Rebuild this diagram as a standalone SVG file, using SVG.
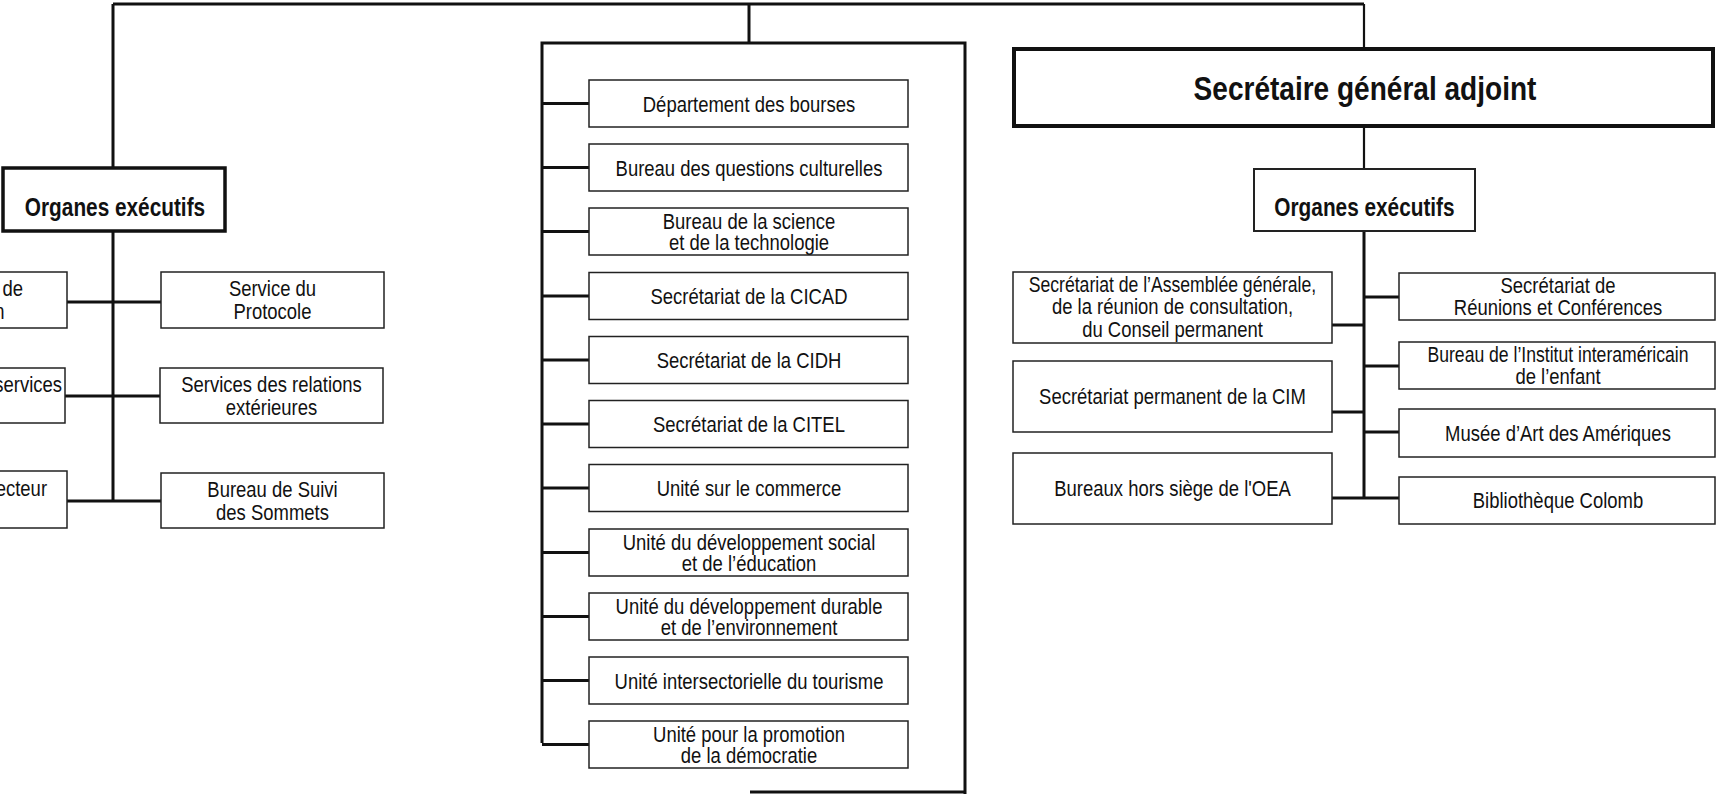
<svg xmlns="http://www.w3.org/2000/svg" width="1716" height="794" viewBox="0 0 1716 794">
<style>
.box{fill:#fff;stroke:#222;stroke-width:1.5}
.thick{fill:#fff;stroke:#111;stroke-width:3.5}
.t{font-family:"Liberation Sans",Arial,sans-serif;font-size:22px;fill:#111;text-anchor:middle;transform-box:fill-box;transform-origin:50% 50%;transform:scaleX(0.84)}
.e{text-anchor:end;transform-origin:100% 50%}
.n{transform:scaleX(0.8)}
.b{font-weight:bold;font-size:26px;transform:scaleX(0.8)}
.h{font-weight:bold;font-size:33px;transform:scaleX(0.85)}
.c{stroke:#111;stroke-width:3;fill:none}
.c2{stroke:#111;stroke-width:2.2;fill:none}
</style>
<rect width="1716" height="794" fill="#fff"/>
<g id="connectors">
<path class="c" d="M113,4 H1364"/>
<path class="c" d="M113,4 V168 M113,231 V501"/>
<path class="c" d="M67,302 H161 M65,396 H160 M67,501 H161"/>
<path class="c" d="M749,4 V43"/>
<path class="c" d="M542,743 V43 H965 V794 M750,792 H965"/>
<path class="c" d="M542,103.5 H589 M542,167.5 H589 M542,231.5 H589 M542,296 H589 M542,360 H589 M542,424 H589 M542,488 H589 M542,552.5 H589 M542,616.5 H589 M542,680.5 H589 M542,744.5 H589"/>
<path class="c2" d="M1364,4 V49 M1364,126 V169"/>
<path class="c" d="M1364,231 V498"/>
<path class="c" d="M1332,325 H1364 M1332,412 H1364 M1332,498 H1399 M1364,297 H1399 M1364,366 H1399 M1364,432 H1399"/>
</g>
<g id="organes-left">
<rect class="thick" x="3" y="168" width="222" height="63"/>
<text class="t b" x="115" y="216">Organes exécutifs</text>
</g>
<g id="left-cut-1">
<rect class="box" x="-10" y="272" width="77" height="56"/>
<text class="t e" x="23" y="296">de</text>
<text class="t e" x="4.5" y="319">n</text>
</g>
<g id="left-cut-2">
<rect class="box" x="-10" y="368" width="75" height="55"/>
<text class="t e" x="62" y="392">services</text>
</g>
<g id="left-cut-3">
<rect class="box" x="-10" y="471" width="77" height="57"/>
<text class="t e" x="47" y="496">ecteur</text>
</g>
<g id="service-protocole">
<rect class="box" x="161" y="272" width="223" height="56"/>
<text class="t" x="272.5" y="296.5">Service du</text>
<text class="t" x="272.5" y="319.5">Protocole</text>
</g>
<g id="relations-exterieures">
<rect class="box" x="160" y="368" width="223" height="55"/>
<text class="t" x="271.5" y="392">Services des relations</text>
<text class="t" x="271.5" y="415">extérieures</text>
</g>
<g id="suivi-sommets">
<rect class="box" x="161" y="473" width="223" height="55"/>
<text class="t" x="272.5" y="497">Bureau de Suivi</text>
<text class="t" x="272.5" y="520">des Sommets</text>
</g>
<g id="c1"><rect class="box" x="589" y="80" width="319" height="47"/><text class="t" x="749" y="112">Département des bourses</text></g>
<g id="c2"><rect class="box" x="589" y="144" width="319" height="47"/><text class="t" x="749" y="176">Bureau des questions culturelles</text></g>
<g id="c3"><rect class="box" x="589" y="208" width="319" height="47"/><text class="t" x="749" y="229">Bureau de la science</text><text class="t" x="749" y="250">et de la technologie</text></g>
<g id="c4"><rect class="box" x="589" y="272.5" width="319" height="47"/><text class="t" x="749" y="304.5">Secrétariat de la CICAD</text></g>
<g id="c5"><rect class="box" x="589" y="336.5" width="319" height="47"/><text class="t" x="749" y="368.5">Secrétariat de la CIDH</text></g>
<g id="c6"><rect class="box" x="589" y="400.5" width="319" height="47"/><text class="t" x="749" y="432.5">Secrétariat de la CITEL</text></g>
<g id="c7"><rect class="box" x="589" y="464.5" width="319" height="47"/><text class="t" x="749" y="496.5">Unité sur le commerce</text></g>
<g id="c8"><rect class="box" x="589" y="529" width="319" height="47"/><text class="t" x="749" y="550">Unité du développement social</text><text class="t" x="749" y="571">et de l’éducation</text></g>
<g id="c9"><rect class="box" x="589" y="593" width="319" height="47"/><text class="t" x="749" y="614">Unité du développement durable</text><text class="t" x="749" y="635">et de l’environnement</text></g>
<g id="c10"><rect class="box" x="589" y="657" width="319" height="47"/><text class="t" x="749" y="689">Unité intersectorielle du tourisme</text></g>
<g id="c11"><rect class="box" x="589" y="721" width="319" height="47"/><text class="t" x="749" y="742">Unité pour la promotion</text><text class="t" x="749" y="763">de la démocratie</text></g>
<g id="sga">
<rect class="thick" x="1014" y="49" width="699" height="77" style="stroke-width:4"/>
<text class="t h" x="1365" y="100">Secrétaire général adjoint</text>
</g>
<g id="organes-right">
<rect class="box" x="1254" y="169" width="221" height="62" style="stroke-width:2"/>
<text class="t b" x="1364.5" y="216">Organes exécutifs</text>
</g>
<g id="r-assemblee">
<rect class="box" x="1013" y="272" width="319" height="71"/>
<text class="t n" x="1172.5" y="292">Secrétariat de l’Assemblée générale,</text>
<text class="t" x="1172.5" y="314.5">de la réunion de consultation,</text>
<text class="t" x="1172.5" y="337">du Conseil permanent</text>
</g>
<g id="r-cim">
<rect class="box" x="1013" y="361" width="319" height="71"/>
<text class="t" x="1172.5" y="404.5">Secrétariat permanent de la CIM</text>
</g>
<g id="r-oea">
<rect class="box" x="1013" y="453" width="319" height="71"/>
<text class="t" x="1172.5" y="496.5">Bureaux hors siège de l'OEA</text>
</g>
<g id="r-reunions">
<rect class="box" x="1399" y="273" width="316" height="47"/>
<text class="t" x="1558" y="293">Secrétariat de</text>
<text class="t" x="1558" y="315">Réunions et Conférences</text>
</g>
<g id="r-enfant">
<rect class="box" x="1399" y="342" width="316" height="47"/>
<text class="t n" x="1558" y="362">Bureau de l’Institut interaméricain</text>
<text class="t" x="1558" y="384">de l’enfant</text>
</g>
<g id="r-musee">
<rect class="box" x="1399" y="409" width="316" height="48"/>
<text class="t" x="1558" y="441">Musée d’Art des Amériques</text>
</g>
<g id="r-colomb">
<rect class="box" x="1399" y="477" width="316" height="47"/>
<text class="t" x="1558" y="508.5">Bibliothèque Colomb</text>
</g>
</svg>
